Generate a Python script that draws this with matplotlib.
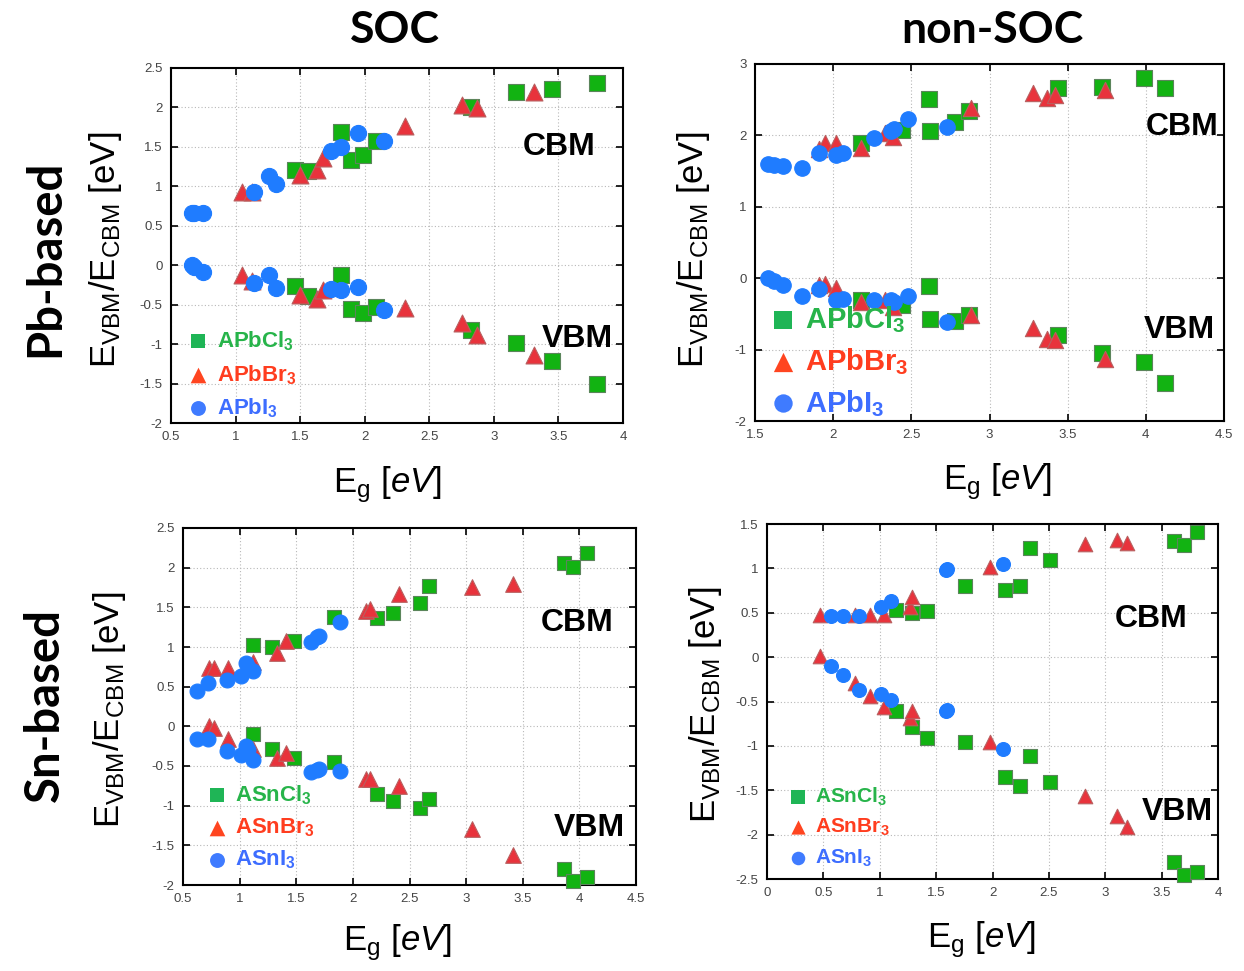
import matplotlib.pyplot as plt
from matplotlib.ticker import FuncFormatter
import numpy as np

# ---- data: band gap (Eg), CBM and VBM positions [eV] ----
# SOC, Pb-based
soc_pb_cl_eg = [1.46, 1.56, 1.82, 1.89, 1.99, 2.09, 2.82, 3.17, 3.45, 3.80]
soc_pb_cl_cbm = [1.21, 1.19, 1.69, 1.34, 1.40, 1.57, 2.01, 2.19, 2.23, 2.31]
soc_pb_cl_vbm = [-0.26, -0.39, -0.13, -0.55, -0.60, -0.53, -0.82, -0.99, -1.22, -1.50]
soc_pb_br_eg = [1.05, 1.13, 1.50, 1.63, 1.68, 2.31, 2.75, 2.87, 3.31]
soc_pb_br_cbm = [0.93, 0.93, 1.14, 1.21, 1.36, 1.77, 2.03, 1.99, 2.19]
soc_pb_br_vbm = [-0.12, -0.20, -0.38, -0.43, -0.31, -0.545, -0.735, -0.88, -1.14]
soc_pb_i_eg = [0.66, 0.68, 0.75, 1.145, 1.26, 1.31, 1.74, 1.82, 1.95, 2.15]
soc_pb_i_cbm = [0.66, 0.66, 0.66, 0.93, 1.13, 1.03, 1.45, 1.50, 1.68, 1.58]
soc_pb_i_vbm = [0.0, -0.02, -0.085, -0.22, -0.13, -0.29, -0.30, -0.31, -0.28, -0.57]

# non-SOC, Pb-based
nsoc_pb_cl_eg = [2.18, 2.44, 2.61, 2.62, 2.78, 2.87, 3.44, 3.72, 3.99, 4.12]
nsoc_pb_cl_cbm = [1.89, 2.08, 2.51, 2.06, 2.19, 2.34, 2.66, 2.68, 2.81, 2.66]
nsoc_pb_cl_vbm = [-0.31, -0.38, -0.11, -0.57, -0.60, -0.51, -0.80, -1.05, -1.17, -1.47]
nsoc_pb_br_eg = [1.91, 1.95, 2.02, 2.18, 2.33, 2.38, 2.88, 3.28, 3.37, 3.42, 3.74]
nsoc_pb_br_cbm = [1.81, 1.89, 1.89, 1.83, 2.03, 1.98, 2.38, 2.59, 2.53, 2.57, 2.64]
nsoc_pb_br_vbm = [-0.09, -0.075, -0.135, -0.33, -0.31, -0.40, -0.52, -0.70, -0.855, -0.86, -1.13]
nsoc_pb_i_eg = [1.585, 1.62, 1.68, 1.80, 1.91, 2.02, 2.06, 2.26, 2.37, 2.39, 2.48, 2.73]
nsoc_pb_i_cbm = [1.595, 1.585, 1.575, 1.55, 1.75, 1.73, 1.76, 1.97, 2.06, 2.09, 2.23, 2.12]
nsoc_pb_i_vbm = [0.0, -0.04, -0.10, -0.25, -0.145, -0.30, -0.285, -0.30, -0.31, -0.33, -0.25, -0.61]

# SOC, Sn-based
soc_sn_cl_eg = [1.12, 1.29, 1.48, 1.83, 2.21, 2.35, 2.59, 2.67, 3.86, 3.94, 4.07]
soc_sn_cl_cbm = [1.02, 1.00, 1.08, 1.38, 1.36, 1.43, 1.56, 1.77, 2.06, 2.01, 2.18]
soc_sn_cl_vbm = [-0.10, -0.28, -0.40, -0.45, -0.85, -0.94, -1.03, -0.91, -1.80, -1.95, -1.90]
soc_sn_br_eg = [0.73, 0.77, 0.90, 1.12, 1.33, 1.41, 2.12, 2.15, 2.41, 3.05, 3.41]
soc_sn_br_cbm = [0.73, 0.73, 0.73, 0.815, 0.92, 1.08, 1.46, 1.48, 1.665, 1.76, 1.79]
soc_sn_br_vbm = [0.01, -0.025, -0.16, -0.28, -0.40, -0.33, -0.67, -0.67, -0.75, -1.30, -1.62]
soc_sn_i_eg = [0.62, 0.72, 0.89, 1.015, 1.06, 1.07, 1.12, 1.63, 1.68, 1.70, 1.89]
soc_sn_i_cbm = [0.44, 0.54, 0.58, 0.64, 0.80, 0.75, 0.70, 1.06, 1.13, 1.14, 1.32]
soc_sn_i_vbm = [-0.16, -0.16, -0.31, -0.36, -0.25, -0.30, -0.42, -0.57, -0.55, -0.54, -0.56]

# non-SOC, Sn-based
nsoc_sn_cl_eg = [1.14, 1.29, 1.42, 1.76, 2.11, 2.24, 2.33, 2.51, 3.61, 3.70, 3.81]
nsoc_sn_cl_cbm = [0.53, 0.50, 0.52, 0.80, 0.76, 0.80, 1.23, 1.10, 1.31, 1.26, 1.41]
nsoc_sn_cl_vbm = [-0.605, -0.79, -0.91, -0.96, -1.35, -1.45, -1.11, -1.41, -2.31, -2.46, -2.42]
nsoc_sn_br_eg = [0.47, 0.78, 0.91, 1.04, 1.27, 1.29, 1.975, 2.82, 3.10, 3.19]
nsoc_sn_br_cbm = [0.48, 0.48, 0.47, 0.48, 0.57, 0.68, 1.02, 1.27, 1.32, 1.29]
nsoc_sn_br_vbm = [0.01, -0.29, -0.44, -0.56, -0.69, -0.61, -0.96, -1.56, -1.79, -1.91]
nsoc_sn_i_eg = [0.565, 0.67, 0.82, 1.01, 1.10, 1.585, 1.60, 2.09]
nsoc_sn_i_cbm = [0.46, 0.46, 0.46, 0.57, 0.63, 0.985, 0.99, 1.05]
nsoc_sn_i_vbm = [-0.10, -0.20, -0.37, -0.42, -0.48, -0.605, -0.60, -1.04]

pb_labels = [r'$\mathbf{APbCl_3}$', r'$\mathbf{APbBr_3}$', r'$\mathbf{APbI_3}$']
sn_labels = [r'$\mathbf{ASnCl_3}$', r'$\mathbf{ASnBr_3}$', r'$\mathbf{ASnI_3}$']

# ---- style ----
plt.rcParams['font.family'] = ['Liberation Sans', 'DejaVu Sans']
plt.rcParams['mathtext.fontset'] = 'custom'
plt.rcParams['mathtext.rm'] = 'Liberation Sans'
plt.rcParams['mathtext.it'] = 'Liberation Sans:italic'
plt.rcParams['mathtext.bf'] = 'Liberation Sans:bold'

W, H = 1244, 971
fig = plt.figure(figsize=(W / 100, H / 100), dpi=100)

# marker / face / edge for Cl, Br, I
markers = ['s', '^', 'o']
faces = ['#12b312', '#e8333c', '#1f7cff']
edges = ['#5b855b', '#b86060', '#1f7cff']
leg_marker_col = ['#1fb556', '#ff4520', '#3f7bff']
leg_text_col = ['#27b44a', '#ff3d1f', '#3d6dff']
size_scale = [1.0, 1.1, 1.0]
draw_order = [1, 0, 2]  # Br below, Cl, then I on top


def px_axes(l, t, r, b):
    return fig.add_axes([l / W, 1 - b / H, (r - l) / W, (b - t) / H])


panels = [
    dict(rect=(171, 68, 623, 423), xlim=(0.5, 4), ylim=(-2, 2.5), ystep=0.5,
         data=[(soc_pb_cl_eg, soc_pb_cl_cbm, soc_pb_cl_vbm),
               (soc_pb_br_eg, soc_pb_br_cbm, soc_pb_br_vbm),
               (soc_pb_i_eg, soc_pb_i_cbm, soc_pb_i_vbm)],
         labels=pb_labels, ms=135, leg=(0.060, 0.102, [0.231, 0.135, 0.042]),
         leg_fs=16, leg_ms=115, cbm=(0.858, 0.777), vbm=(0.898, 0.237),
         ylab=(105, 250), xlab=(388, 485)),
    dict(rect=(755, 64, 1224, 421), xlim=(1.5, 4.5), ylim=(-2, 3), ystep=1,
         data=[(nsoc_pb_cl_eg, nsoc_pb_cl_cbm, nsoc_pb_cl_vbm),
               (nsoc_pb_br_eg, nsoc_pb_br_cbm, nsoc_pb_br_vbm),
               (nsoc_pb_i_eg, nsoc_pb_i_cbm, nsoc_pb_i_vbm)],
         labels=pb_labels, ms=125, leg=(0.060, 0.107, [0.283, 0.165, 0.050]),
         leg_fs=21, leg_ms=175, cbm=(0.910, 0.824), vbm=(0.904, 0.255),
         ylab=(694, 250), xlab=(998, 482)),
    dict(rect=(183, 528, 636, 885), xlim=(0.5, 4.5), ylim=(-2, 2.5), ystep=0.5,
         data=[(soc_sn_cl_eg, soc_sn_cl_cbm, soc_sn_cl_vbm),
               (soc_sn_br_eg, soc_sn_br_cbm, soc_sn_br_vbm),
               (soc_sn_i_eg, soc_sn_i_cbm, soc_sn_i_vbm)],
         labels=sn_labels, ms=115, leg=(0.075, 0.115, [0.252, 0.160, 0.070]),
         leg_fs=16, leg_ms=115, cbm=(0.870, 0.734), vbm=(0.898, 0.160),
         ylab=(110, 710), xlab=(398, 943)),
    dict(rect=(767, 524, 1218, 879), xlim=(0, 4), ylim=(-2.5, 1.5), ystep=0.5,
         data=[(nsoc_sn_cl_eg, nsoc_sn_cl_cbm, nsoc_sn_cl_vbm),
               (nsoc_sn_br_eg, nsoc_sn_br_cbm, nsoc_sn_br_vbm),
               (nsoc_sn_i_eg, nsoc_sn_i_cbm, nsoc_sn_i_vbm)],
         labels=sn_labels, ms=100, leg=(0.069, 0.106, [0.231, 0.146, 0.059]),
         leg_fs=15, leg_ms=95, cbm=(0.851, 0.732), vbm=(0.909, 0.189),
         ylab=(705, 705), xlab=(982, 940)),
]

fmt = FuncFormatter(lambda v, pos: f'{v:g}')

for p in panels:
    ax = px_axes(*p['rect'])
    ax.set_xlim(*p['xlim'])
    ax.set_ylim(*p['ylim'])
    ax.set_xticks(np.arange(p['xlim'][0], p['xlim'][1] + 0.01, 0.5))
    ax.set_yticks(np.arange(p['ylim'][0], p['ylim'][1] + 0.01, p['ystep']))
    ax.xaxis.set_major_formatter(fmt)
    ax.yaxis.set_major_formatter(fmt)
    ax.grid(True, linestyle=(0, (1, 2)), color='#b8b8b8', lw=0.8)
    ax.set_axisbelow(True)
    ax.tick_params(direction='in', top=True, right=True, length=5, width=1.2,
                   labelsize=9.5, labelcolor='#444444', pad=6)
    for s in ax.spines.values():
        s.set_linewidth(1.5)

    for k in draw_order:
        eg, cbm, vbm = p['data'][k]
        for yv in (cbm, vbm):
            ax.scatter(eg, yv, s=p['ms'] * size_scale[k], marker=markers[k],
                       facecolor=faces[k], edgecolor=edges[k], linewidths=0.8,
                       zorder=3 + k, clip_on=False)

    mx, tx, rows = p['leg']
    for k in range(3):
        ax.scatter([mx], [rows[k]], transform=ax.transAxes, s=p['leg_ms'] * size_scale[k],
                   marker=markers[k], color=leg_marker_col[k], linewidths=0, zorder=6)
        ax.text(tx, rows[k], p['labels'][k], transform=ax.transAxes, color=leg_text_col[k],
                fontsize=p['leg_fs'], ha='left', va='center', zorder=6)

    ax.text(*p['cbm'], 'CBM', transform=ax.transAxes, fontsize=23, fontweight='bold',
            ha='center', va='center', zorder=7)
    ax.text(*p['vbm'], 'VBM', transform=ax.transAxes, fontsize=23, fontweight='bold',
            ha='center', va='center', zorder=7)

    fig.text(p['ylab'][0] / W, 1 - p['ylab'][1] / H, r'$\mathrm{E_{VBM}/E_{CBM}}$ [eV]',
             rotation=90, fontsize=25, ha='center', va='center')
    fig.text(p['xlab'][0] / W, 1 - p['xlab'][1] / H, r'$\mathrm{E_g}$ [$\mathit{eV}$]',
             fontsize=25, ha='center', va='center')

# column / row headings
head = dict(family=['Lato', 'DejaVu Sans'], fontweight='bold', fontsize=32,
            ha='center', va='center')
fig.text(395 / W, 1 - 30 / H, 'SOC', **head)
fig.text(992 / W, 1 - 30 / H, 'non-SOC', **head)
fig.text(45 / W, 1 - 258 / H, 'Pb-based', rotation=90, **dict(head, fontsize=34))
fig.text(45 / W, 1 - 705 / H, 'Sn-based', rotation=90, **dict(head, fontsize=34))

fig.savefig('out.png', dpi=100)
